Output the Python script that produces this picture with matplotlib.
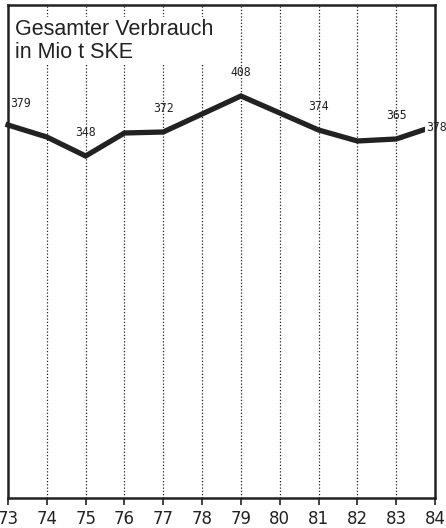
import matplotlib
matplotlib.use("Agg")
import matplotlib.pyplot as plt

years = [73, 74, 75, 76, 77, 78, 79, 80, 81, 82, 83, 84]
values = [379, 367, 348, 371, 372, 390, 408, 391, 374, 363, 365, 378]
tick_labels = ["73", "74", "75", "76", "77", "78", "79", "80", "81", "82", "83", "84"]
labeled = {73: "379", 75: "348", 77: "372", 79: "408", 81: "374", 83: "365", 84: "378"}
title = "Gesamter Verbrauch\nin Mio t SKE"

fig = plt.figure(figsize=(4.46, 5.28), dpi=100)
ax = fig.add_axes([8/446, 30/528, (435-8)/446, (498-5)/528])
ax.set_xlim(73, 84)
ax.set_ylim(6, 499)

ink = "#222222"
for y in years[1:-1]:
    ax.axvline(y, color=ink, linestyle=(0, (1, 1.6)), linewidth=0.9, zorder=1)

ax.plot(years, values, color=ink, linewidth=3.8, solid_joinstyle="miter", zorder=3, clip_on=False)

lab_kw = dict(fontsize=8.3, family="DejaVu Sans Mono", color=ink, textcoords="offset points")
for x, v in zip(years, values):
    if x in labeled:
        if x == 73:
            ax.annotate(labeled[x], (x, v), xytext=(1.5, 11), ha="left", va="bottom",
                        zorder=5, **lab_kw)
        elif x == 84:
            ax.annotate(labeled[x], (x, v), xytext=(-6, -1), ha="left", va="center",
                        zorder=6, annotation_clip=False,
                        bbox=dict(boxstyle="square,pad=0.15", fc="white", ec="none"), **lab_kw)
        else:
            ax.annotate(labeled[x], (x, v), xytext=(0, 12), ha="center", va="bottom",
                        zorder=5, **lab_kw)

ax.text(0.016, 0.972, title, transform=ax.transAxes, ha="left", va="top",
        fontsize=15.5, family="Liberation Sans", color=ink, linespacing=1.12, zorder=4,
        bbox=dict(boxstyle="square,pad=0.1", fc="white", ec="none"))

ax.set_yticks([])
ax.set_xticks(years)
ax.set_xticklabels(tick_labels, fontsize=12, color=ink, family="DejaVu Sans")
ax.tick_params(axis="x", direction="out", length=5, width=1.2, color=ink, pad=4)
for s in ax.spines.values():
    s.set_linewidth(1.8)
    s.set_color(ink)
    s.set_zorder(7)

fig.savefig("out.png", dpi=100)
